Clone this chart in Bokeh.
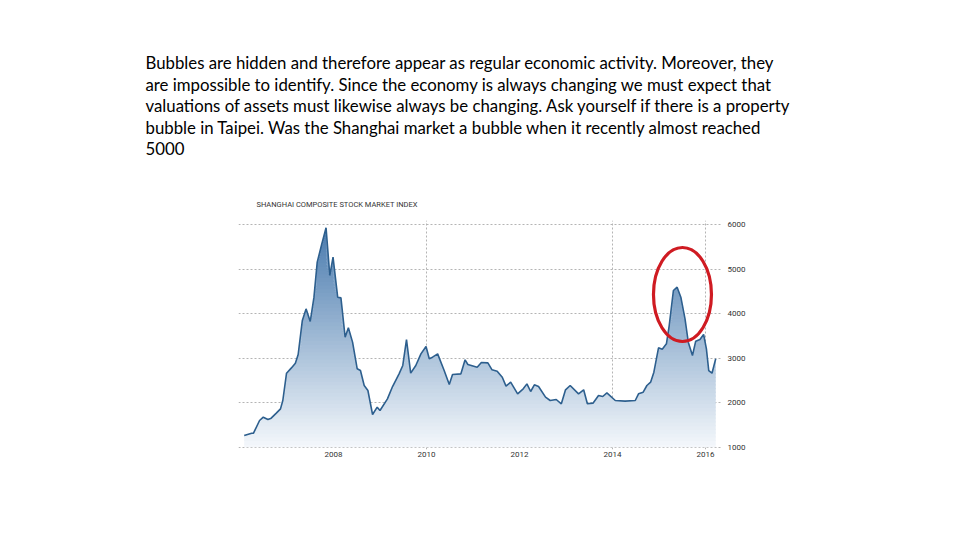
import numpy as np
from bokeh.plotting import figure
from bokeh.models import Range1d, FixedTicker, Title
from bokeh.embed import file_html
from bokeh.resources import INLINE

# ---------------- data ----------------
years = [2006.08, 2006.24, 2006.28, 2006.41, 2006.49, 2006.59, 2006.66, 2006.77, 2006.86, 2006.91,
         2006.99, 2007.09, 2007.18, 2007.24, 2007.33, 2007.41, 2007.50, 2007.58, 2007.65, 2007.74,
         2007.84, 2007.92, 2007.99, 2008.09, 2008.16, 2008.25, 2008.32, 2008.41, 2008.51, 2008.58,
         2008.66, 2008.74, 2008.84, 2008.94, 2009.00, 2009.16, 2009.27, 2009.41, 2009.49, 2009.57,
         2009.66, 2009.77, 2009.88, 2009.99, 2010.06, 2010.13, 2010.24, 2010.38, 2010.49, 2010.56,
         2010.74, 2010.83, 2010.89, 2011.09, 2011.18, 2011.32, 2011.41, 2011.52, 2011.63, 2011.71,
         2011.81, 2011.96, 2012.08, 2012.16, 2012.24, 2012.32, 2012.41, 2012.56, 2012.66, 2012.79,
         2012.90, 2012.99, 2013.09, 2013.27, 2013.38, 2013.46, 2013.58, 2013.70, 2013.79, 2013.88,
         2014.06, 2014.27, 2014.49, 2014.56, 2014.66, 2014.74, 2014.82, 2014.89, 2014.99, 2015.07,
         2015.16, 2015.22, 2015.31, 2015.39, 2015.47, 2015.56, 2015.63, 2015.72, 2015.79, 2015.88,
         2015.96, 2016.02, 2016.07, 2016.14, 2016.22]
index_values = [1262, 1315, 1315, 1600, 1675, 1622, 1652, 1765, 1862, 2050,
                2664, 2777, 2889, 3084, 3850, 4110, 3826, 4373, 5160, 5535,
                5933, 4860, 5273, 4373, 4358, 3474, 3684, 3362, 2762, 2724,
                2387, 2274, 1735, 1900, 1825, 2087, 2364, 2649, 2837, 3421,
                2664, 2837, 3099, 3264, 2987, 3024, 3099, 2724, 2409, 2634,
                2649, 2964, 2859, 2799, 2904, 2896, 2739, 2709, 2574, 2372,
                2462, 2200, 2312, 2424, 2252, 2402, 2364, 2125, 2050, 2072,
                1975, 2290, 2387, 2200, 2290, 1975, 1990, 2162, 2140, 2222,
                2050, 2035, 2050, 2200, 2237, 2387, 2462, 2687, 3234, 3204,
                3324, 3736, 4523, 4598, 4373, 3886, 3361, 3061, 3384, 3421,
                3534, 3211, 2724, 2664, 2987]
x_tick_years = [2008, 2010, 2012, 2014, 2016]
x_grid_years = [2010, 2014, 2016]
y_ticks = [1000, 2000, 3000, 4000, 5000, 6000]
chart_title = "SHANGHAI COMPOSITE STOCK MARKET INDEX"
paragraph = [
    "Bubbles are hidden and therefore appear as regular economic activity. Moreover, they",
    "are impossible to identify. Since the economy is always changing we must expect that",
    "valuations of assets must likewise always be changing. Ask yourself if there is a property",
    "bubble in Taipei. Was the Shanghai market a bubble when it recently almost reached",
    "5000",
]
# highlighted region (the 2015 peak)
highlight_center = (2015.505, 4433)
highlight_size = (1.247, 2113)

# ---------------- figure ----------------
W, H = 944, 524
FL, FR, FT, FB = 238, 722, 220, 449   # chart frame edges in page pixels
p = figure(width=W, height=H, output_backend="svg", toolbar_location=None,
           x_range=Range1d(2005.957, 2016.366), y_range=Range1d(948, 6097),
           y_axis_location="right", min_border_left=FL, min_border_right=W - FR,
           min_border_top=FT, min_border_bottom=H - FB)
p.outline_line_color = None
p.background_fill_color = "white"
p.border_fill_color = "white"

# gradient fill built from horizontal bands
vals = np.array(index_values, dtype=float)
base, top = 1000.0, 6000.0
edges = np.linspace(base, top, 61)
overlap = 30.0
c_top = np.array([72, 122, 174])
c_bot = np.array([246, 249, 252])
for i, (lo, hi) in enumerate(zip(edges[:-1], edges[1:])):
    tt = ((lo + hi) / 2 - base) / (top - base)
    c = (c_bot + (c_top - c_bot) * tt).astype(int)
    col = "#%02x%02x%02x" % tuple(c)
    lo_o = lo - overlap if i > 0 else lo
    p.varea(x=years, y1=np.minimum(vals, lo_o), y2=np.minimum(vals, hi),
            fill_color=col, fill_alpha=1.0)

p.line(years, index_values, line_color="#2d5f8e", line_width=1.6)

# highlight ellipse
p.ellipse(x=[highlight_center[0]], y=[highlight_center[1]],
          width=highlight_size[0], height=highlight_size[1],
          fill_color=None, line_color="#cf1b22", line_width=3.2)

# axes
xa = p.xaxis[0]
xa.ticker = FixedTicker(ticks=x_tick_years)
ya = p.yaxis[0]
ya.ticker = FixedTicker(ticks=y_ticks)
for ax in (xa, ya):
    ax.axis_line_color = None
    ax.major_tick_line_color = None
    ax.minor_tick_line_color = None
    ax.major_tick_in = 0
    ax.major_tick_out = 0
    ax.major_label_text_font = "Roboto"
    ax.major_label_text_font_size = "8px"
    ax.major_label_text_color = "#333333"
xa.major_label_standoff = 2
ya.major_label_standoff = 5

p.xgrid.ticker = FixedTicker(ticks=x_grid_years)
p.ygrid.ticker = FixedTicker(ticks=y_ticks)
for g in (p.xgrid, p.ygrid):
    g.grid_line_color = "#b4b4b4"
    g.grid_line_dash = "2 2"
    g.grid_line_width = 1

# ---------------- texts above the chart (stacked title panels) ----------------
p.add_layout(Title(text=chart_title, align="left", offset=256 - FL, standoff=23,
                   text_font="Roboto", text_font_size="7.5px", text_font_style="normal",
                   text_color="#333333"), "above")
p.add_layout(Title(text="\n".join(paragraph), align="left", offset=145 - FL, standoff=55,
                   text_font="Lato", text_font_size="16.8px", text_font_style="normal",
                   text_line_height=1.02, text_color="#000000"), "above")

open("out.html", "w").write(file_html(p, INLINE))
